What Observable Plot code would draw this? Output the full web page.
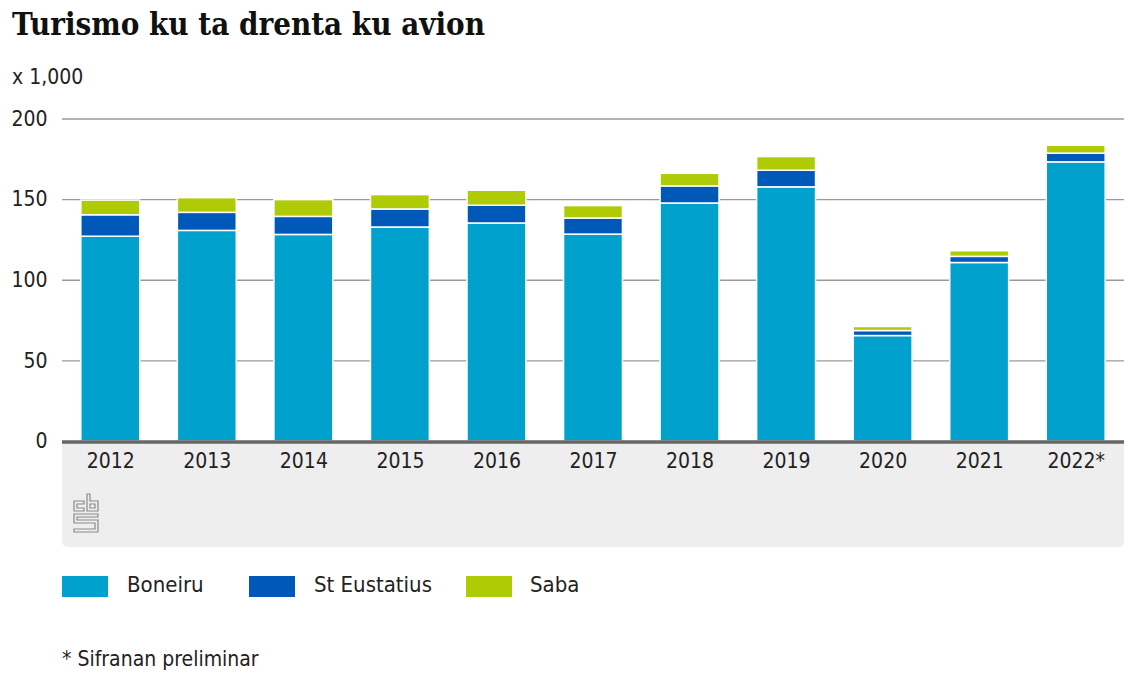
<!DOCTYPE html>
<html><head><meta charset="utf-8">
<script src="https://cdn.jsdelivr.net/npm/d3@7"></script>
<script src="https://cdn.jsdelivr.net/npm/@observablehq/plot@0.6"></script>
<style>
body{margin:0;background:#fff;font-family:"Liberation Sans Narrow","DejaVu Sans Condensed","Roboto Condensed",sans-serif;color:#222}
#wrap{position:relative;width:1134px;height:684px;overflow:hidden}
#title{position:absolute;left:12px;top:6px;font-family:"DejaVu Serif Condensed","DejaVu Serif",serif;font-stretch:condensed;font-size:31px;font-weight:bold;color:#111;white-space:nowrap}
#unit{position:absolute;left:12px;top:65px;font-size:21px;color:#222}
#panel{position:absolute;left:62px;top:441px;width:1062px;height:106px;background:#eeeeee;border-radius:0 0 6px 6px}
#chart{position:absolute;left:0;top:0}
#logo{position:absolute;left:72px;top:493px}
#legend{position:absolute;left:62px;top:573px;height:24px;font-size:22px}
.sw{position:absolute;top:3px;width:46px;height:21px}
.lab{position:absolute;top:0;line-height:24px;white-space:nowrap}
#note{position:absolute;left:62px;top:647px;font-size:21px;white-space:nowrap}
</style></head><body>
<div id="wrap">
<div id="title">Turismo ku ta drenta ku avion</div>
<div id="unit">x 1,000</div>
<div id="panel"></div>
<div id="chart"></div>
<svg id="logo" width="32" height="44" viewBox="0 0 32 44" fill="none" stroke="#8a8a8a" stroke-width="1.2">
  <path d="M2 8 H12 V11 H5 V15 H12 V18 H2 Z"/>
  <path d="M15 1 H18 V8 H26 V18 H15 Z M18 11 V15 H23 V11 Z"/>
  <path d="M2 21 H26 V24 H5 V27 H26 V39 H2 V36 H23 V30 H2 Z"/>
</svg>
<div id="legend"></div>
<div id="note">* Sifranan preliminar</div>
</div>
<script>
const years = ["2012","2013","2014","2015","2016","2017","2018","2019","2020","2021","2022*"];
const boneiru = [127.0, 130.6, 128.1, 132.7, 135.2, 128.3, 147.6, 157.6, 65.4, 110.7, 173.1];
const stEustatius = [13.3, 11.2, 11.2, 11.2, 11.0, 10.0, 10.6, 10.3, 3.1, 3.8, 5.4];
const saba = [9.1, 9.1, 10.4, 8.9, 9.3, 7.7, 7.8, 8.5, 2.5, 3.5, 4.9];
const series = ["Boneiru", "St Eustatius", "Saba"];
const colors = ["#00a1cd", "#0058b8", "#afcb05"];
const yTicks = [0, 50, 100, 150, 200];

const values = [boneiru, stEustatius, saba];
const data = [];
series.forEach((s, si) => years.forEach((yr, i) => data.push({year: yr, series: s, value: values[si][i]})));

const font = '"Liberation Sans Narrow","DejaVu Sans Condensed",sans-serif';
const chart = Plot.plot({
  width: 1134,
  height: 560,
  marginLeft: 62,
  marginRight: 10,
  marginTop: 118.5,
  marginBottom: 119,
  style: {fontSize: "21px", fontFamily: font, color: "#222", background: "transparent"},
  x: {domain: years, paddingInner: 0.39, paddingOuter: 0.195, round: false, label: null},
  y: {domain: [0, 200], label: null},
  color: {domain: series, range: colors},
  marks: [
    Plot.ruleY(yTicks.filter(d => d > 0), {stroke: "#9a9a9a", strokeWidth: 1.3}),
    Plot.barY(data, {x: "year", y: "value", fill: "series", order: series, stroke: "white", strokeWidth: 1.5}),
    Plot.ruleY([0], {stroke: "#666", strokeWidth: 3.5, dy: 0.5}),
    Plot.axisX({tickSize: 0, tickPadding: 12, fontSize: 21}),
    Plot.axisY({ticks: yTicks, tickSize: 0, tickPadding: 15, fontSize: 21})
  ]
});
document.getElementById("chart").appendChild(chart);

const legend = document.getElementById("legend");
const swX = [0, 187, 404];
const labX = [65, 252, 468];
series.forEach((s, i) => {
  const sw = document.createElement("div");
  sw.className = "sw"; sw.style.left = swX[i] + "px"; sw.style.background = colors[i];
  const lab = document.createElement("div");
  lab.className = "lab"; lab.style.left = labX[i] + "px"; lab.textContent = s;
  legend.appendChild(sw); legend.appendChild(lab);
});
</script>
</body></html>
